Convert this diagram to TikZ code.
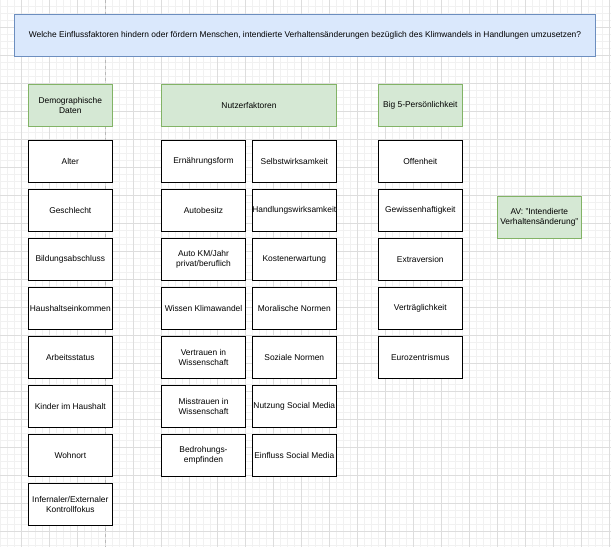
\documentclass[tikz,border=0pt]{standalone}
\usepackage{fontspec}
\setmainfont{Liberation Sans}
\definecolor{qfill}{HTML}{DAE8FC}
\definecolor{qline}{HTML}{6C8EBF}
\definecolor{gfill}{HTML}{D5E8D4}
\definecolor{gline}{HTML}{82B366}
\definecolor{minorline}{HTML}{F1F1F1}
\definecolor{majorline}{HTML}{DDDDDD}
\definecolor{pageline}{HTML}{B8B8B8}
\begin{document}
\begin{tikzpicture}[x=1pt,y=-1pt,
    every node/.style={font=\fontsize{8.4}{10}\selectfont, align=center, inner sep=0pt},
    factor/.style={draw=black, fill=white, line width=0.8pt, minimum width=84pt, minimum height=42pt},
    header/.style={draw=gline, fill=gfill, line width=0.8pt, minimum height=42pt},
    question/.style={draw=qline, fill=qfill, line width=0.8pt, minimum width=581pt, minimum height=42pt},
    minorgrid/.style={draw=minorline, line width=0.5pt},
    majorgrid/.style={draw=majorline, line width=0.6pt},
    pagebreak/.style={draw=pageline, line width=0.6pt, dash pattern=on 3pt off 3pt}]
  \useasboundingbox[fill=white] (0,0) rectangle (611,547);
  % background grid
  \foreach \gx in {0,...,87} \draw[minorgrid] ({0.3+7*\gx},0) -- ++(0,547);
  \foreach \gy in {1,...,78} \draw[minorgrid] (0,{-0.7+7*\gy}) -- ++(611,0);
  \foreach \gx in {0,...,21} \draw[majorgrid] ({21.3+28*\gx},0) -- ++(0,547);
  \foreach \gy in {1,...,19} \draw[majorgrid] (0,{-0.7+28*\gy}) -- ++(611,0);
  \draw[pagebreak] (105,0) -- (105,547);
  % question
  \node[question] (q) at (305,35.3)
    {Welche Einflussfaktoren hindern oder fördern Menschen, intendierte Verhaltensänderungen bezüglich des Klimwandels in Handlungen umzusetzen?};
  % headers
  \node[header, minimum width=84pt] (demo) at (70.3,105.3) {Demographische\\Daten};
  \node[header, minimum width=174.6pt] (nutz) at (249,105.3) {Nutzerfaktoren};
  \node[header, minimum width=84pt] (big) at (420.3,105.3) {Big 5-Persönlichkeit};
  \node[header, minimum width=84pt] (av) at (539.3,217.3) {AV: "Intendierte\\Verhaltensänderung"};
  % demographische Daten
  \node[factor] (a1) at (70.3,161.3) {Alter};
  \node[factor] (a2) at (70.3,210.3) {Geschlecht};
  \node[factor] (a3) at (70.3,259.3) {Bildungsabschluss};
  \node[factor] (a4) at (70.3,308.3) {Haushaltseinkommen};
  \node[factor] (a5) at (70.3,357.3) {Arbeitsstatus};
  \node[factor] (a6) at (70.3,406.3) {Kinder im Haushalt};
  \node[factor] (a7) at (70.3,455.3) {Wohnort};
  \node[factor] (a8) at (70.3,504.3) {Infernaler/Externaler\\Kontrollfokus};
  % Nutzerfaktoren
  \node[factor] (b1) at (203.5,161.3) {Ernährungsform};
  \node[factor] (b2) at (203.5,210.3) {Autobesitz};
  \node[factor] (b3) at (203.5,259.3) {Auto KM/Jahr\\privat/beruflich};
  \node[factor] (b4) at (203.5,308.3) {Wissen Klimawandel};
  \node[factor] (b5) at (203.5,357.3) {Vertrauen in\\Wissenschaft};
  \node[factor] (b6) at (203.5,406.3) {Misstrauen in\\Wissenschaft};
  \node[factor] (b7) at (203.5,455.3) {Bedrohungs-\\empfinden};
  \node[factor] (c1) at (294.3,161.3) {Selbstwirksamkeit};
  \node[factor] (c2) at (294.3,210.3) {Handlungswirksamkeit};
  \node[factor] (c3) at (294.3,259.3) {Kostenerwartung};
  \node[factor] (c4) at (294.3,308.3) {Moralische Normen};
  \node[factor] (c5) at (294.3,357.3) {Soziale Normen};
  \node[factor] (c6) at (294.3,406.3) {Nutzung Social Media};
  \node[factor] (c7) at (294.3,455.3) {Einfluss Social Media};
  % Big 5
  \node[factor] (d1) at (420.3,161.3) {Offenheit};
  \node[factor] (d2) at (420.3,210.3) {Gewissenhaftigkeit};
  \node[factor] (d3) at (420.3,259.3) {Extraversion};
  \node[factor] (d4) at (420.3,308.3) {Verträglichkeit};
  \node[factor] (d5) at (420.3,357.3) {Eurozentrismus};
\end{tikzpicture}
\end{document}
